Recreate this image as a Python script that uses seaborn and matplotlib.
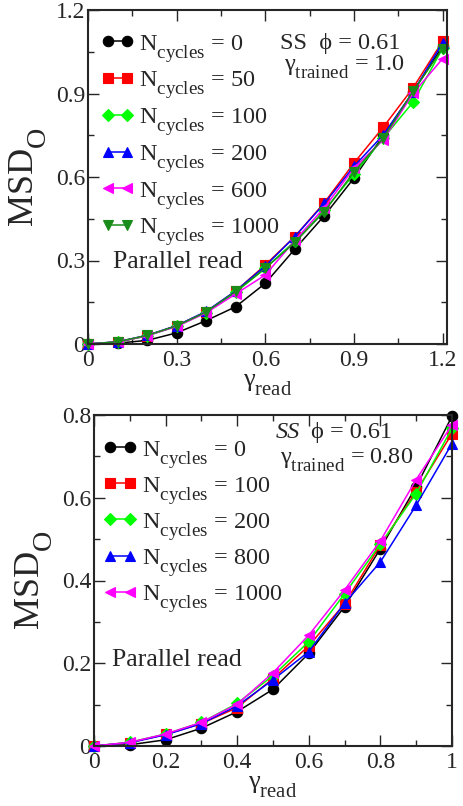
import numpy as np
import pandas as pd
import matplotlib
matplotlib.use("Agg")
import matplotlib.pyplot as plt
import matplotlib._mathtext as mathtext_core
from matplotlib.ticker import MultipleLocator, FuncFormatter
import seaborn as sns

# ---- data: top panel (gamma_trained = 1.0) ----
gamma_top = [0.0, 0.1, 0.2, 0.3, 0.4, 0.5, 0.6, 0.7, 0.8, 0.9, 1.0, 1.1, 1.2]
cycles_top = [0, 50, 100, 200, 600, 1000]
msd_top_0 = [0.0, 0.003, 0.013, 0.040, 0.084, 0.134, 0.218, 0.341, 0.461, 0.596, 0.750, 0.905, 1.070]
msd_top_50 = [0.0, 0.007, 0.030, 0.066, 0.116, 0.190, 0.284, 0.386, 0.508, 0.650, 0.780, 0.920, 1.088]
msd_top_100 = [0.0, 0.007, 0.029, 0.064, 0.113, 0.186, 0.272, 0.370, 0.480, 0.610, 0.740, 0.869, 1.062]
msd_top_200 = [0.0, 0.008, 0.031, 0.066, 0.117, 0.191, 0.280, 0.386, 0.505, 0.638, 0.752, 0.905, 1.082]
msd_top_600 = [0.0, 0.007, 0.030, 0.063, 0.112, 0.180, 0.248, 0.372, 0.490, 0.632, 0.734, 0.900, 1.025]
msd_top_1000 = [0.0, 0.008, 0.031, 0.065, 0.115, 0.189, 0.272, 0.365, 0.476, 0.618, 0.740, 0.908, 1.061]

# ---- data: bottom panel (gamma_trained = 0.80) ----
gamma_bot = [0.0, 0.1, 0.2, 0.3, 0.4, 0.5, 0.6, 0.7, 0.8, 0.9, 1.0]
cycles_bot = [0, 100, 200, 800, 1000]
msd_bot_0 = [0.0, 0.003, 0.015, 0.043, 0.083, 0.137, 0.224, 0.337, 0.477, 0.627, 0.797]
msd_bot_100 = [0.0, 0.008, 0.028, 0.054, 0.093, 0.163, 0.242, 0.344, 0.486, 0.615, 0.755]
msd_bot_200 = [0.0, 0.009, 0.029, 0.057, 0.103, 0.170, 0.252, 0.368, 0.488, 0.610, 0.768]
msd_bot_800 = [0.0, 0.008, 0.027, 0.054, 0.097, 0.160, 0.228, 0.345, 0.445, 0.582, 0.731]
msd_bot_1000 = [0.0, 0.009, 0.029, 0.057, 0.101, 0.177, 0.268, 0.377, 0.496, 0.644, 0.776]

series_top = [msd_top_0, msd_top_50, msd_top_100, msd_top_200, msd_top_600, msd_top_1000]
series_bot = [msd_bot_0, msd_bot_100, msd_bot_200, msd_bot_800, msd_bot_1000]

colors_top = ["#000000", "#ff0000", "#00ff00", "#0000ff", "#ff00ff", "#1a8c1a"]
markers_top = ["o", "s", "D", "^", "<", "v"]
colors_bot = ["#000000", "#ff0000", "#00ff00", "#0000ff", "#ff00ff"]
markers_bot = ["o", "s", "D", "^", "<"]

sns.set_style("ticks")
plt.rcParams["font.family"] = ["Liberation Serif", "DejaVu Serif"]
plt.rcParams["mathtext.fontset"] = "custom"
plt.rcParams["mathtext.rm"] = "Liberation Serif"
plt.rcParams["mathtext.it"] = "Liberation Serif:italic"
plt.rcParams["mathtext.bf"] = "Liberation Serif:bold"
# larger, lower subscripts than mathtext's defaults
mathtext_core.SHRINK_FACTOR = 0.78
mathtext_core.FontConstantsBase.sub1 = 0.8

W, H = 464, 806
fig = plt.figure(figsize=(W / 100, H / 100), dpi=100)
ax1 = fig.add_axes([88 / W, 1 - 344 / H, (447 - 88) / W, (344 - 10) / H])
ax2 = fig.add_axes([94 / W, 1 - 746 / H, (452 - 94) / W, (746 - 415) / H])


def fmt(v, pos):
    s = f"{v:.1f}"
    if s.endswith(".0"):
        s = s[:-2]
    return s


def draw(ax, x, series, cycles, colors, markers):
    for ys, n, c, m in zip(series, cycles, colors, markers):
        df = pd.DataFrame({"gamma": x, "msd": ys})
        ms = 7.5 if m in ("o", "s") else 7.0
        if m == "D":
            ms = 6.0
        sns.lineplot(data=df, x="gamma", y="msd", ax=ax, color=c, marker=m,
                     markersize=ms, markeredgecolor=c, markeredgewidth=0.8,
                     linewidth=1.1, clip_on=False, estimator=None,
                     label=r"$\mathrm{N}_{\mathrm{cycles}}$" + f" = {n}")


def style(ax, major_x, major_y):
    ax.xaxis.set_major_locator(MultipleLocator(major_x))
    ax.xaxis.set_minor_locator(MultipleLocator(major_x / 2))
    ax.yaxis.set_major_locator(MultipleLocator(major_y))
    ax.yaxis.set_minor_locator(MultipleLocator(major_y / 2))
    ax.xaxis.set_major_formatter(FuncFormatter(fmt))
    ax.yaxis.set_major_formatter(FuncFormatter(fmt))
    ax.tick_params(which="both", direction="in", top=True, right=True,
                   width=1.0, labelsize=17)
    ax.tick_params(which="major", length=8)
    ax.tick_params(which="minor", length=4)
    ax.tick_params(axis="y", pad=2)
    ax.tick_params(axis="x", pad=4)
    for sp in ax.spines.values():
        sp.set_linewidth(1.5)
    ax.set_xlabel(r"γ$_{\mathrm{read}}$", fontsize=19, labelpad=1)
    ax.set_ylabel(r"MSD$_{\mathrm{O}}$", fontsize=26, labelpad=5)


legend_kw = dict(loc="upper left", frameon=False, fontsize=17.5, numpoints=2,
                 handlelength=1.4, handletextpad=0.2,
                 borderpad=0, borderaxespad=0)

# top panel
draw(ax1, gamma_top, series_top, cycles_top, colors_top, markers_top)
ax1.set_xlim(0, 1.215)
ax1.set_ylim(0, 1.2)
style(ax1, 0.3, 0.3)
ax1.legend(bbox_to_anchor=(0.035, 0.932), labelspacing=0.2, **legend_kw)
ax1.text(0.535, 0.90, "SS  ϕ = 0.61", transform=ax1.transAxes, fontsize=17.5,
         va="center", ha="left")
ax1.text(0.545, 0.83, r"γ$_{\mathrm{trained}}$ = 1.0", transform=ax1.transAxes,
         fontsize=17.5, va="center", ha="left")
ax1.text(0.07, 0.245, "Parallel read", transform=ax1.transAxes, fontsize=18.5,
         va="center", ha="left")

# bottom panel
draw(ax2, gamma_bot, series_bot, cycles_bot, colors_bot, markers_bot)
ax2.set_xlim(0, 1.0)
ax2.set_ylim(0, 0.8)
style(ax2, 0.2, 0.2)
ax2.legend(bbox_to_anchor=(0.025, 0.928), labelspacing=0.17, **legend_kw)
ax2.text(0.508, 0.946, "SS", transform=ax2.transAxes, fontsize=17.5,
         va="center", ha="left", style="italic")
ax2.text(0.605, 0.946, "ϕ = 0.61", transform=ax2.transAxes, fontsize=17.5,
         va="center", ha="left")
ax2.text(0.52, 0.864, r"γ$_{\mathrm{trained}}$ = 0.80", transform=ax2.transAxes,
         fontsize=17.5, va="center", ha="left")
ax2.text(0.05, 0.26, "Parallel read", transform=ax2.transAxes, fontsize=18.5,
         va="center", ha="left")

fig.savefig("out.png", dpi=100)
